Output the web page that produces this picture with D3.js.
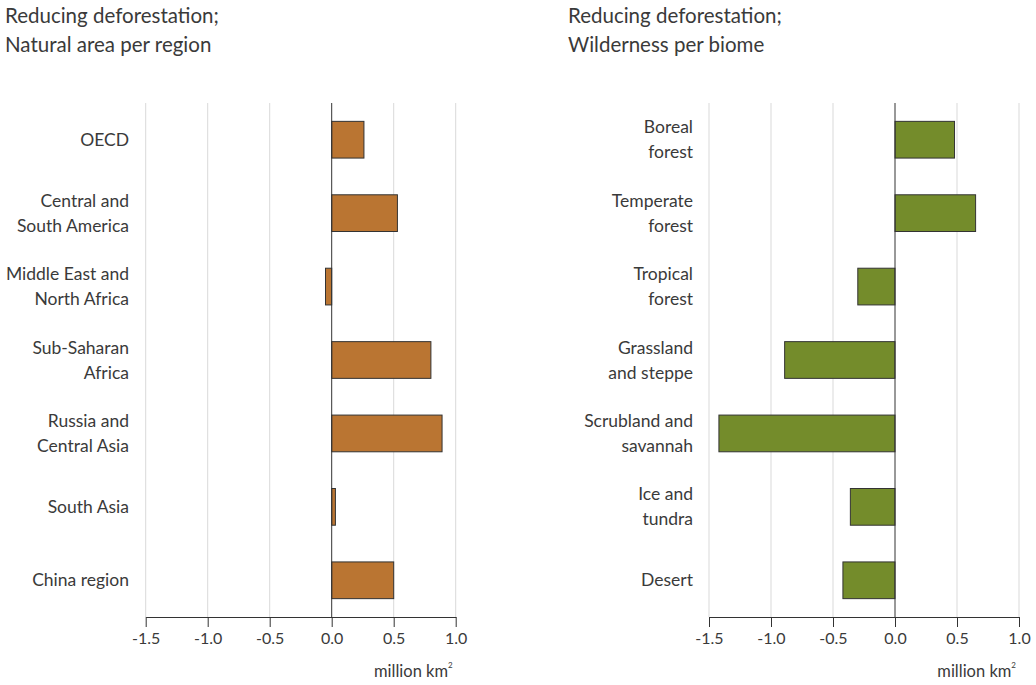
<!DOCTYPE html>
<html><head><meta charset="utf-8">
<script src="https://cdn.jsdelivr.net/npm/d3@7"></script>
<style>
body{margin:0;background:#fff;}
text{font-family:Lato,"Open Sans",sans-serif;fill:#3a3a3a;}
</style></head>
<body><svg id="c" width="1036" height="685"></svg>
<script>
const regions = [["OECD"],["Central and","South America"],["Middle East and","North Africa"],["Sub-Saharan","Africa"],["Russia and","Central Asia"],["South Asia"],["China region"]];
const regionValues = [0.26, 0.53, -0.05, 0.80, 0.89, 0.03, 0.50];
const biomes = [["Boreal","forest"],["Temperate","forest"],["Tropical","forest"],["Grassland","and steppe"],["Scrubland and","savannah"],["Ice and","tundra"],["Desert"]];
const biomeValues = [0.48, 0.65, -0.30, -0.89, -1.42, -0.36, -0.42];
const tickValues = [-1.5, -1.0, -0.5, 0.0, 0.5, 1.0];
const titles1 = ["Reducing deforestation;","Natural area per region"];
const titles2 = ["Reducing deforestation;","Wilderness per biome"];
const unitLabel = "million km";

const svg = d3.select("#c");

function panel(opts){
  const g = svg.append("g");
  const x = d3.scaleLinear().domain([-1.5,1.0]).range([opts.x0, opts.x1]);
  const cats = opts.cats.map(d=>d.join(" "));
  const y = d3.scaleBand().domain(cats).range([103,617]).paddingInner(0.5).paddingOuter(0.25);
  opts.title.forEach((t,i)=>{
    g.append("text").attr("x",opts.tx).attr("y",23+i*29).attr("font-size",20.5).text(t);
  });
  g.selectAll(".grid").data(tickValues.filter(v=>v!==0)).join("line")
    .attr("x1",d=>x(d)).attr("x2",d=>x(d)).attr("y1",103).attr("y2",617)
    .attr("stroke","#d9d9d9").attr("stroke-width",1);
  g.selectAll(".bar").data(opts.values).join("rect")
    .attr("x",d=>x(Math.min(0,d))).attr("width",d=>Math.abs(x(d)-x(0)))
    .attr("y",(d,i)=>y(cats[i])).attr("height",y.bandwidth())
    .attr("fill",opts.color).attr("stroke","#333").attr("stroke-width",1);
  g.append("line").attr("x1",x(0)).attr("x2",x(0)).attr("y1",103).attr("y2",617).attr("stroke","#333");
  const ax = g.append("g").attr("transform","translate(0,617)")
    .call(d3.axisBottom(x).tickValues(tickValues).tickFormat(d=>d.toFixed(1)).tickSize(10).tickPadding(6).tickSizeOuter(0));
  ax.select(".domain").attr("stroke","#333");
  ax.selectAll(".tick line").attr("stroke","#333");
  ax.selectAll(".tick text").attr("font-size",16).attr("fill","#3a3a3a").style("font-family","Lato,sans-serif");
  const u = g.append("text").attr("x",x(1.0)-3).attr("y",677).attr("text-anchor","end").attr("font-size",16.5);
  u.append("tspan").text(unitLabel);
  u.append("tspan").attr("font-size",8).attr("dy",-9).text("2");
  opts.cats.forEach((lines,i)=>{
    const cy = y(cats[i]) + y.bandwidth()/2;
    const n = lines.length;
    lines.forEach((l,j)=>{
      g.append("text").attr("x",opts.lx).attr("y",cy + (j-(n-1)/2)*25 + 6)
        .attr("text-anchor","end").attr("font-size",17.5).text(l);
    });
  });
}
panel({x0:145.7,x1:455.7,cats:regions,values:regionValues,color:"#ba7532",title:titles1,tx:5,lx:129});
panel({x0:709,x1:1019,cats:biomes,values:biomeValues,color:"#748c2b",title:titles2,tx:568,lx:693});
</script></body></html>
